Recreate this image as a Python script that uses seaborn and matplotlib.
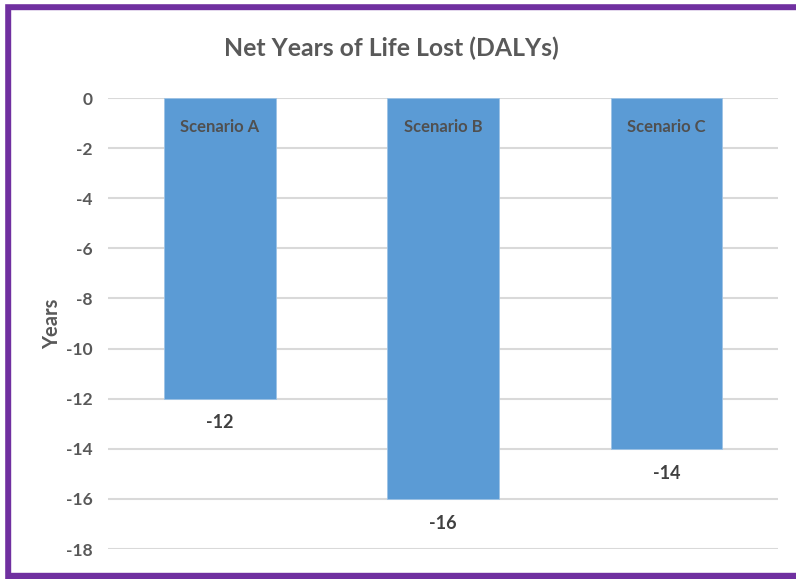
import matplotlib
matplotlib.use("Agg")
import matplotlib.pyplot as plt
import seaborn as sns
import pandas as pd
from matplotlib.patches import Rectangle

categories = ["Scenario A", "Scenario B", "Scenario C"]
values = [-12, -16, -14]
yticks = [0, -2, -4, -6, -8, -10, -12, -14, -16, -18]

sns.set_style("white")
plt.rcParams['font.family'] = ['Lato', 'DejaVu Sans']

df = pd.DataFrame({"Scenario": categories, "Years": values})

fig = plt.figure(figsize=(7.96, 5.79), dpi=100)
ax = fig.add_axes([108/796, 1-549/579, 670/796, (549-98)/579])

sns.barplot(data=df, x="Scenario", y="Years", color="#5B9BD5", width=0.5,
            saturation=1, ax=ax, zorder=3, edgecolor="#9DC3E6", linewidth=0.6)

ax.set_ylim(-18, 0)
ax.set_yticks(yticks)
ax.set_yticklabels([str(t) for t in yticks], fontsize=12.5, fontweight='bold', color='#595959')
ax.tick_params(axis='y', length=0, pad=11)
ax.set_xticks([])
ax.set_xlabel("")
ax.set_ylabel("Years", fontsize=14.5, fontweight='bold', color='#595959', labelpad=3)
for s in ax.spines.values():
    s.set_visible(False)
ax.grid(axis='y', color='#D9D9D9', linewidth=1.5, zorder=0)
ax.set_axisbelow(True)

for i, (c, v) in enumerate(zip(categories, values)):
    ax.text(i, -1.15, c, ha='center', va='center', fontsize=12, fontweight='bold', color='#505050', zorder=5)
    ax.text(i, v - 0.97, str(v), ha='center', va='center', fontsize=13, fontweight='bold', color='#404040', zorder=5)

fig.text(391/796, 1-48/579, "Net Years of Life Lost (DALYs)", ha='center', va='center',
         fontsize=17.8, fontweight='bold', color='#595959')

# purple frame (left, top, bottom)
purple = "#7030A0"
fig.patches.append(Rectangle((0, 0), 10/796, 1, transform=fig.transFigure, color=purple, zorder=10))
fig.patches.append(Rectangle((0, 0), 1, 6/579, transform=fig.transFigure, color=purple, zorder=10))
fig.patches.append(Rectangle((0, 1-9/579), 1, 9/579, transform=fig.transFigure, color=purple, zorder=10))
fig.patches.append(Rectangle((0, 0), 4/796, 1, transform=fig.transFigure, color='white', zorder=11))
fig.patches.append(Rectangle((0, 1-3/579), 1, 3/579, transform=fig.transFigure, color='white', zorder=11))

fig.savefig("out.png", dpi=100)
